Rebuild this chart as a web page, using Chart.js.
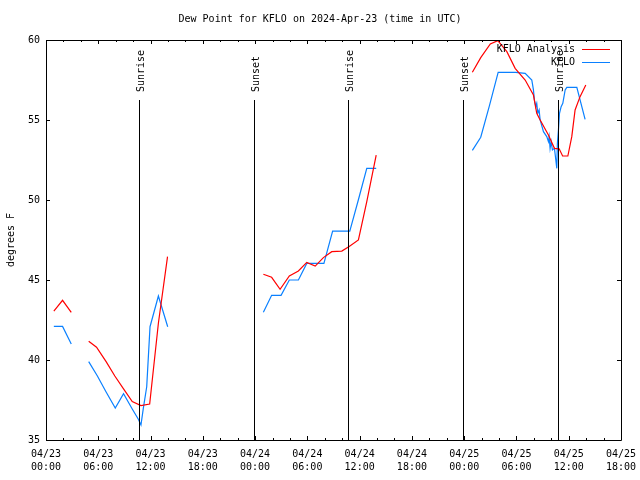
<!DOCTYPE html>
<html>
<head>
<meta charset="utf-8">
<script src="https://cdn.jsdelivr.net/npm/chart.js@4/dist/chart.umd.min.js"></script>
<style>
html,body{margin:0;padding:0;background:#fff;}
canvas{display:block;}
</style>
</head>
<body>
<canvas id="c" width="640" height="480"></canvas>
<script>
// Hours since 2024-04-23 00:00 UTC; null breaks the line (missing data)
const analysisHours = [0.9,1.9,2.9,3.9,4.9,5.8,6.9,7.9,8.9,9.9,10.9,11.9,12.9,13.95,
  19.0,
  24.95,25.9,26.87,27.93,28.97,29.93,30.9,31.84,32.8,33.95,34.8,35.86,36.82,37.9,
  43.0,
  48.94,49.9,51.0,51.86,52.9,53.85,55.0,55.95,56.33,56.72,57.67,58.36,58.9,59.3,59.9,60.35,60.73,61.3,61.96];
const analysisVals = [43.06,43.73,42.98,null,41.17,40.8,39.9,39.0,38.2,37.4,37.15,37.25,42.3,46.46,
  null,
  45.36,45.17,44.42,45.25,45.56,46.1,45.87,46.4,46.77,46.81,47.1,47.5,49.9,52.8,
  null,
  57.98,58.9,59.75,59.96,59.27,58.23,57.5,56.56,55.42,55.0,54.06,53.23,53.2,52.75,52.75,53.96,55.63,56.46,57.19];

const obsHours = [0.9,1.9,2.9,3.9,4.9,5.9,6.9,7.95,8.9,9.9,10.6,10.9,11.17,11.56,11.94,12.9,13.97,
  19.0,
  24.95,25.9,26.98,27.93,28.97,29.93,30.9,31.9,32.9,33.9,34.87,35.85,36.82,37.9,
  43.0,
  48.94,49.9,50.9,51.9,52.9,53.9,55.0,55.76,55.95,56.06,56.22,56.33,56.45,56.6,56.72,57.1,57.48,57.67,57.75,57.86,57.98,58.13,58.36,58.52,58.63,58.7,58.82,58.94,59.13,59.32,59.59,59.78,60.93,61.88];
const obsVals = [42.1,42.1,41.0,null,39.9,39.0,38.0,37.0,37.9,36.94,36.3,35.94,36.98,38.33,42.08,44.0,42.08,
  null,
  42.98,44.04,44.04,45.0,45.0,46.04,46.04,46.04,48.06,48.06,48.06,50.0,51.98,51.98,
  null,
  53.1,53.92,55.9,57.98,57.98,57.98,57.92,57.5,56.88,56.25,55.83,56.04,55.42,55.63,55.0,54.27,53.96,53.65,53.96,53.23,53.65,53.13,53.23,52.5,51.98,53.54,54.38,55.42,55.83,56.04,56.88,57.04,57.04,55.04];

const xTickDates = ['04/23','04/23','04/23','04/23','04/24','04/24','04/24','04/24','04/25','04/25','04/25','04/25'];
const xTickTimes = ['00:00','06:00','12:00','18:00','00:00','06:00','12:00','18:00','00:00','06:00','12:00','18:00'];
const yTicks = [35,40,45,50,55,60];

const sunHours = [10.71,23.92,34.71,47.91,58.74];
const sunLabels = ['Sunrise','Sunset','Sunrise','Sunset','Sunrise'];

const titleText = 'Dew Point for KFLO on 2024-Apr-23 (time in UTC)';
const yTitle = 'degrees F';
const seriesNames = ['KFLO Analysis','KFLO'];
const seriesColors = ['#ff0000','#0a80ff'];

const FONT = '10px "DejaVu Sans Mono", "Liberation Mono", monospace';

function pts(h, v){ return h.map((x,i)=>({x:x, y:v[i]})); }

const gnuplotPlugin = {
  id:'gnuplotDeco',
  afterDatasetsDraw(chart){
    const ctx = chart.ctx, xs = chart.scales.x, ys = chart.scales.y, a = chart.chartArea;
    ctx.save();
    ctx.strokeStyle = '#000'; ctx.lineWidth = 1;
    ctx.fillStyle = '#000'; ctx.font = FONT;
    sunHours.forEach((h,i)=>{
      const px = Math.round(xs.getPixelForValue(h)) + 0.5;
      const yTop = ys.getPixelForValue(35 + 0.85*(60-35));
      ctx.beginPath(); ctx.moveTo(px, ys.getPixelForValue(35)); ctx.lineTo(px, yTop); ctx.stroke();
      ctx.save();
      ctx.translate(px + 1.5, yTop - 8);
      ctx.rotate(-Math.PI/2);
      ctx.textAlign = 'left'; ctx.textBaseline = 'middle';
      ctx.fillText(sunLabels[i], 0, 0);
      ctx.restore();
    });
    ctx.beginPath();
    ctx.rect(Math.round(a.left)+0.5, Math.round(a.top)+0.5, Math.round(a.right-a.left), Math.round(a.bottom-a.top));
    ctx.stroke();
    ctx.beginPath();
    for(let h=0; h<=66; h+=2){
      const px = Math.round(xs.getPixelForValue(h))+0.5;
      const len = (h%6===0) ? 4 : 2;
      ctx.moveTo(px, a.bottom); ctx.lineTo(px, a.bottom-len);
      ctx.moveTo(px, a.top); ctx.lineTo(px, a.top+len);
    }
    yTicks.forEach(v=>{
      const py = Math.round(ys.getPixelForValue(v))+0.5;
      ctx.moveTo(a.left, py); ctx.lineTo(a.left+4, py);
      ctx.moveTo(a.right, py); ctx.lineTo(a.right-4, py);
    });
    ctx.stroke();
    ctx.textAlign = 'center'; ctx.textBaseline = 'middle';
    ctx.fillText(titleText, 320, 19);
    ctx.save();
    ctx.translate(11, 240); ctx.rotate(-Math.PI/2);
    ctx.fillText(yTitle, 0, 0);
    ctx.restore();
    const rows = [49.5, 62.5];
    seriesNames.forEach((n,i)=>{
      ctx.textAlign = 'right'; ctx.fillStyle = '#000';
      ctx.fillText(n, 575, rows[i]);
      ctx.strokeStyle = seriesColors[i];
      ctx.beginPath(); ctx.moveTo(582, Math.round(rows[i])-0.5); ctx.lineTo(610, Math.round(rows[i])-0.5); ctx.stroke();
    });
    ctx.restore();
  }
};

new Chart(document.getElementById('c'), {
  type:'line',
  data:{
    datasets:[
      {label:seriesNames[0], data:pts(analysisHours, analysisVals), borderColor:seriesColors[0], borderWidth:1.2, pointRadius:0, tension:0, spanGaps:false, fill:false},
      {label:seriesNames[1], data:pts(obsHours, obsVals), borderColor:seriesColors[1], borderWidth:1.2, pointRadius:0, tension:0, spanGaps:false, fill:false}
    ]
  },
  options:{
    responsive:false, animation:false, devicePixelRatio:1,
    layout:{padding:{top:40, right:19, left:0, bottom:0}},
    plugins:{legend:{display:false}, title:{display:false}, tooltip:{enabled:false}},
    scales:{
      x:{type:'linear', min:0, max:66,
        grid:{display:false, drawTicks:false}, border:{display:false},
        ticks:{stepSize:6, autoSkip:false, maxRotation:0, minRotation:0, padding:8, color:'#000',
          font:{family:'"DejaVu Sans Mono", "Liberation Mono", monospace', size:10, lineHeight:1.3},
          callback:(v)=>{ const i = Math.round(v/6); return [xTickDates[i], xTickTimes[i]]; }},
        afterFit:(s)=>{ s.height = 40; s.paddingLeft = 0; s.paddingRight = 0; }
      },
      y:{type:'linear', min:35, max:60,
        grid:{display:false, drawTicks:false}, border:{display:false},
        ticks:{stepSize:5, padding:6, color:'#000',
          font:{family:'"DejaVu Sans Mono", "Liberation Mono", monospace', size:10}},
        afterFit:(s)=>{ s.width = 46; s.paddingTop = 0; s.paddingBottom = 0; }
      }
    }
  },
  plugins:[gnuplotPlugin]
});
</script>
</body>
</html>
